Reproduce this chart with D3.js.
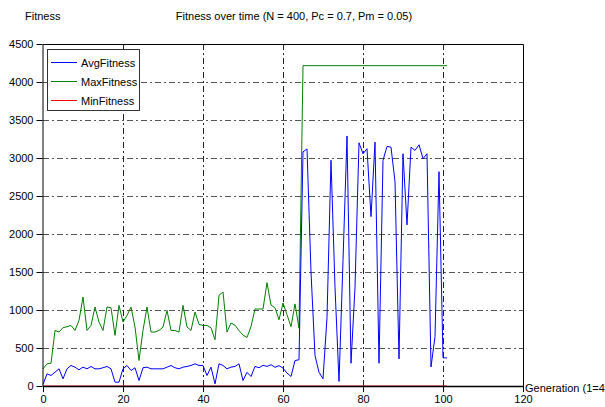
<!DOCTYPE html>
<html>
<head>
<meta charset="utf-8">
<script src="https://cdn.jsdelivr.net/npm/d3@7"></script>
<style>
  body { margin: 0; background: #fff; overflow: hidden; }
  svg text { font-family: "Liberation Sans", Arial, sans-serif; font-size: 11px; fill: #000; }
</style>
</head>
<body>
<svg id="chart" width="605" height="407"></svg>
<script>
// values, one per generation (0..101)
const generations = d3.range(0, 102);

const avgFitness = [
  20, 160, 138, 182, 226, 94, 226, 270, 248, 213,
  248, 226, 257, 226, 226, 240, 257, 226, 50, 50,
  226, 270, 204, 240, 72, 240, 248, 226, 226, 226,
  226, 248, 270, 240, 226, 248, 257, 270, 292, 270,
  270, 138, 248, 28, 292, 270, 226, 248, 257, 292,
  72, 180, 125, 258, 240, 272, 258, 280, 246, 268,
  236, 170, 126, 335, 345, 3080, 3120, 1500, 400, 180,
  95, 900, 2970, 1300, 60, 1650, 3290, 300, 1300, 3200,
  3056, 3122, 2229, 3209, 300, 2969, 3152, 3143, 2686, 356,
  3056, 2120, 3143, 3100, 3174, 2991, 3056, 250, 650, 2820,
  370, 370
];

const maxFitness = [
  226, 292, 300, 731, 710, 767, 780, 797, 731, 863,
  1171, 731, 797, 1039, 841, 731, 1039, 1030, 666, 1061,
  841, 929, 1039, 776, 336, 731, 1039, 710, 710, 731,
  776, 995, 731, 731, 710, 1061, 776, 731, 973, 811,
  797, 797, 767, 608, 1193, 1237, 710, 829, 800, 730,
  670, 638, 785, 1013, 1013, 1013, 1360, 1065, 1030, 872,
  1092, 938, 780, 1080, 760, 4215, 4215, 4215, 4215, 4215,
  4215, 4215, 4215, 4215, 4215, 4215, 4215, 4215, 4215, 4215,
  4215, 4215, 4215, 4215, 4215, 4215, 4215, 4215, 4215, 4215,
  4215, 4215, 4215, 4215, 4215, 4215, 4215, 4215, 4215, 4215,
  4215, 4215
];

const minFitness = [
  0, 0, 0, 0, 0, 0, 0, 0, 0, 0,
  0, 0, 0, 0, 0, 0, 0, 0, 0, 0,
  0, 0, 0, 0, 0, 0, 0, 0, 0, 0,
  0, 0, 0, 0, 0, 0, 0, 0, 0, 0,
  0, 0, 0, 0, 0, 0, 0, 0, 0, 0,
  0, 0, 0, 0, 0, 0, 0, 0, 0, 0,
  0, 0, 0, 0, 0, 0, 0, 0, 0, 0,
  0, 0, 0, 0, 0, 0, 0, 0, 0, 0,
  0, 0, 0, 0, 0, 0, 0, 0, 0, 0,
  0, 0, 0, 0, 0, 0, 0, 0, 0, 0,
  0, 0
];

const xTicks = [0, 20, 40, 60, 80, 100, 120];
const yTicks = [0, 500, 1000, 1500, 2000, 2500, 3000, 3500, 4000, 4500];

const series = [
  { label: "AvgFitness", color: "#0000ff", values: avgFitness },
  { label: "MaxFitness", color: "#008000", values: maxFitness },
  { label: "MinFitness", color: "#ff0000", values: minFitness }
];

const svg = d3.select("#chart");

const xScale = d3.scaleLinear().domain([0, 120]).range([43, 523]);
const yScale = d3.scaleLinear().domain([0, 4500]).range([386, 44]);

// header texts
svg.append("text")
    .attr("x", 25)
    .attr("y", 20)
    .text("Fitness");

svg.append("text")
    .attr("x", 294)
    .attr("y", 20)
    .attr("text-anchor", "middle")
    .text("Fitness over time (N = 400, Pc = 0.7, Pm = 0.05)");

// dash-dot grid
const grid = svg.append("g").attr("class", "grid");

grid.selectAll(".hgrid")
  .data(yTicks.filter(d => d > 0 && d < 4500))
  .join("line")
    .attr("class", "hgrid")
    .attr("x1", xScale(0))
    .attr("x2", xScale(120))
    .attr("y1", d => Math.round(yScale(d)) + 0.5)
    .attr("y2", d => Math.round(yScale(d)) + 0.5)
    .attr("stroke", "#555")
    .attr("stroke-dasharray", "6,3,2,3");

grid.selectAll(".vgrid")
  .data(xTicks.filter(d => d > 0 && d < 120))
  .join("line")
    .attr("class", "vgrid")
    .attr("x1", d => Math.round(xScale(d)) + 0.5)
    .attr("x2", d => Math.round(xScale(d)) + 0.5)
    .attr("y1", yScale(4500))
    .attr("y2", yScale(0))
    .attr("stroke", "#222")
    .attr("stroke-dasharray", "6,3,2,3");

// data lines: max first, avg over it, min last
const lineGen = values => d3.line()
    .x((d, i) => xScale(generations[i]))
    .y(d => yScale(d))(values);

svg.append("g")
  .selectAll("path")
  .data([series[1], series[0], series[2]])
  .join("path")
    .attr("d", d => lineGen(d.values))
    .attr("fill", "none")
    .attr("stroke", d => d.color)
    .attr("stroke-width", 1);

// frame (top and right)
svg.append("path")
    .attr("d", `M${xScale(0)},${yScale(4500) + 0.5}H${xScale(120) + 0.5}V${yScale(0)}`)
    .attr("fill", "none")
    .attr("stroke", "#000");

// axes with major + minor ticks; the x axis sits on top of the zero line
const xAxis = svg.append("g").attr("transform", `translate(0,${yScale(0)})`);
xAxis.call(d3.axisBottom(xScale).tickValues(d3.range(0, 121, 5)).tickSize(3).tickFormat("").tickSizeOuter(0));
xAxis.call(d3.axisBottom(xScale).tickValues(xTicks).tickSize(6).tickSizeOuter(0).tickPadding(3).tickFormat(d3.format("d")));
xAxis.selectAll(".domain").attr("stroke-width", 1.6);

const yAxis = svg.append("g").attr("transform", `translate(${xScale(0) - 0.5},0)`);
yAxis.call(d3.axisLeft(yScale).tickValues(d3.range(250, 4500, 500)).tickSize(3).tickFormat("").tickSizeOuter(0));
yAxis.call(d3.axisLeft(yScale).tickValues(yTicks).tickSize(6).tickSizeOuter(0).tickPadding(3).tickFormat(d3.format("d")));

svg.selectAll(".tick text")
    .style("font-family", "\"Liberation Sans\", Arial, sans-serif")
    .style("font-size", "11px")
    .attr("fill", "#000");

svg.append("text")
    .attr("x", 525)
    .attr("y", 392)
    .text("Generation (1=4");

// legend
const legend = svg.append("g").attr("class", "legend");

legend.append("rect")
    .attr("x", 47.5)
    .attr("y", 49.5)
    .attr("width", 92)
    .attr("height", 61)
    .attr("fill", "#fff")
    .attr("stroke", "#333");

const items = legend.selectAll(".item")
  .data(series)
  .join("g")
    .attr("class", "item")
    .attr("transform", (d, i) => `translate(0,${62.5 + i * 19})`);

items.append("line")
    .attr("x1", 51)
    .attr("x2", 77)
    .attr("stroke", d => d.color);

items.append("text")
    .attr("x", 81)
    .attr("y", 4)
    .text(d => d.label);
</script>
</body>
</html>
